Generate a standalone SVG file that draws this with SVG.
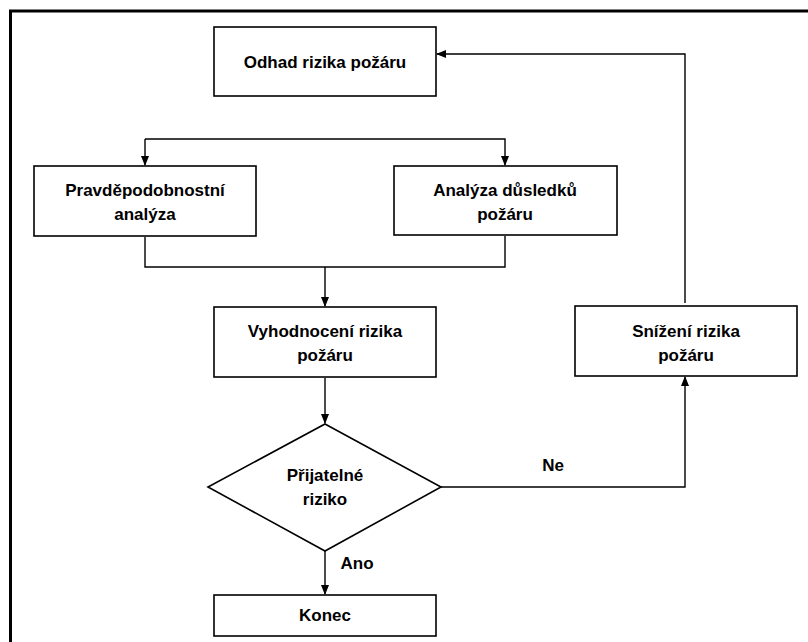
<svg xmlns="http://www.w3.org/2000/svg" width="808" height="642" viewBox="0 0 808 642">
<defs>
<marker id="ah" markerWidth="10" markerHeight="8" refX="9" refY="4" orient="auto" markerUnits="userSpaceOnUse">
<path d="M0,0 L10,4 L0,8 Z" fill="#000"/>
</marker>
<style>
.box{fill:#fff;stroke:#000;stroke-width:1.6}
.t{font-family:"Liberation Sans",Arial,sans-serif;font-weight:bold;font-size:17px;fill:#000;text-anchor:middle}
.c{fill:none;stroke:#000;stroke-width:1.4}
</style>
</defs>
<rect width="808" height="642" fill="#fff"/>
<path d="M10.5,642 V11 H808" fill="none" stroke="#000" stroke-width="3"/>
<g id="connectors">
<path class="c" d="M685,303 V54 H437" marker-end="url(#ah)"/>
<path class="c" d="M145,139 H505 V165" marker-end="url(#ah)"/>
<path class="c" d="M145,139 V165" marker-end="url(#ah)"/>
<path class="c" d="M145,237 V267 H505 V236"/>
<path class="c" d="M325,267 V306" marker-end="url(#ah)"/>
<path class="c" d="M325,378 V423" marker-end="url(#ah)"/>
<path class="c" d="M441,487 H685 V377" marker-end="url(#ah)"/>
<path class="c" d="M325,551 V594" marker-end="url(#ah)"/>
<text class="t" x="553" y="471">Ne</text>
<text class="t" x="357" y="569">Ano</text>
</g>
<g id="odhad">
<rect class="box" x="214" y="27" width="222" height="69"/>
<text class="t" x="325" y="67.5">Odhad rizika požáru</text>
</g>
<g id="pravdepodobnostni">
<rect class="box" x="34" y="166" width="222" height="70"/>
<text class="t" x="145" y="196">Pravděpodobnostní</text>
<text class="t" x="145" y="220">analýza</text>
</g>
<g id="analyza">
<rect class="box" x="394" y="166" width="223" height="69"/>
<text class="t" x="505" y="196">Analýza důsledků</text>
<text class="t" x="505" y="220">požáru</text>
</g>
<g id="vyhodnoceni">
<rect class="box" x="214" y="307" width="222" height="70"/>
<text class="t" x="325" y="337">Vyhodnocení rizika</text>
<text class="t" x="325" y="361">požáru</text>
</g>
<g id="snizeni">
<rect class="box" x="575" y="306" width="222" height="70"/>
<text class="t" x="686" y="337">Snížení rizika</text>
<text class="t" x="686" y="361">požáru</text>
</g>
<g id="prijatelne">
<polygon class="box" points="325,424 441,487 325,551 208,487"/>
<text class="t" x="325" y="481">Přijatelné</text>
<text class="t" x="325" y="505">riziko</text>
</g>
<g id="konec">
<rect class="box" x="214" y="595" width="222" height="41"/>
<text class="t" x="325" y="621">Konec</text>
</g>
</svg>
